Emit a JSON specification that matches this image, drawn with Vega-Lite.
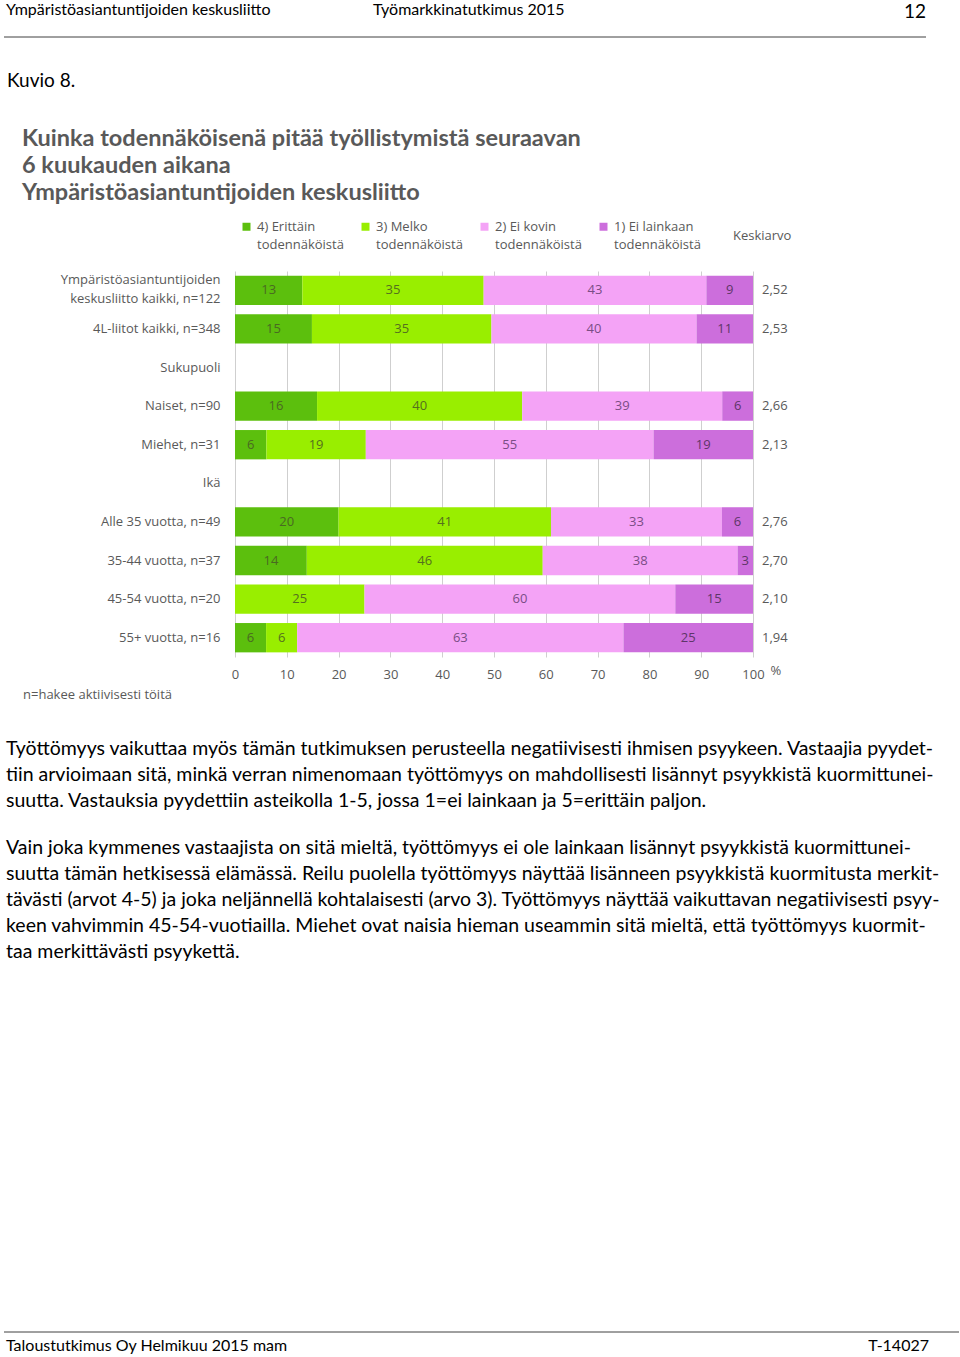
{
  "$schema": "https://vega.github.io/schema/vega-lite/v6.json",
  "background": "white",
  "padding": {"left": 3, "top": 2, "right": 0, "bottom": 0},
  "spacing": 33,
  "config": {
    "view": {"stroke": null},
    "locale": {"number": {"decimal": ",", "thousands": "\u00a0", "grouping": [3], "currency": ["", " €"]}}
  },
  "datasets": {
    "bars": [
      {"group": "Ympäristöasiantuntijoiden keskusliitto kaikki, n=122", "rating": 4, "cat": "4) Erittäin todennäköistä", "pct": 13},
      {"group": "Ympäristöasiantuntijoiden keskusliitto kaikki, n=122", "rating": 3, "cat": "3) Melko todennäköistä", "pct": 35},
      {"group": "Ympäristöasiantuntijoiden keskusliitto kaikki, n=122", "rating": 2, "cat": "2) Ei kovin todennäköistä", "pct": 43},
      {"group": "Ympäristöasiantuntijoiden keskusliitto kaikki, n=122", "rating": 1, "cat": "1) Ei lainkaan todennäköistä", "pct": 9},
      {"group": "4L-liitot kaikki, n=348", "rating": 4, "cat": "4) Erittäin todennäköistä", "pct": 15},
      {"group": "4L-liitot kaikki, n=348", "rating": 3, "cat": "3) Melko todennäköistä", "pct": 35},
      {"group": "4L-liitot kaikki, n=348", "rating": 2, "cat": "2) Ei kovin todennäköistä", "pct": 40},
      {"group": "4L-liitot kaikki, n=348", "rating": 1, "cat": "1) Ei lainkaan todennäköistä", "pct": 11},
      {"group": "Naiset, n=90", "rating": 4, "cat": "4) Erittäin todennäköistä", "pct": 16},
      {"group": "Naiset, n=90", "rating": 3, "cat": "3) Melko todennäköistä", "pct": 40},
      {"group": "Naiset, n=90", "rating": 2, "cat": "2) Ei kovin todennäköistä", "pct": 39},
      {"group": "Naiset, n=90", "rating": 1, "cat": "1) Ei lainkaan todennäköistä", "pct": 6},
      {"group": "Miehet, n=31", "rating": 4, "cat": "4) Erittäin todennäköistä", "pct": 6},
      {"group": "Miehet, n=31", "rating": 3, "cat": "3) Melko todennäköistä", "pct": 19},
      {"group": "Miehet, n=31", "rating": 2, "cat": "2) Ei kovin todennäköistä", "pct": 55},
      {"group": "Miehet, n=31", "rating": 1, "cat": "1) Ei lainkaan todennäköistä", "pct": 19},
      {"group": "Alle 35 vuotta, n=49", "rating": 4, "cat": "4) Erittäin todennäköistä", "pct": 20},
      {"group": "Alle 35 vuotta, n=49", "rating": 3, "cat": "3) Melko todennäköistä", "pct": 41},
      {"group": "Alle 35 vuotta, n=49", "rating": 2, "cat": "2) Ei kovin todennäköistä", "pct": 33},
      {"group": "Alle 35 vuotta, n=49", "rating": 1, "cat": "1) Ei lainkaan todennäköistä", "pct": 6},
      {"group": "35-44 vuotta, n=37", "rating": 4, "cat": "4) Erittäin todennäköistä", "pct": 14},
      {"group": "35-44 vuotta, n=37", "rating": 3, "cat": "3) Melko todennäköistä", "pct": 46},
      {"group": "35-44 vuotta, n=37", "rating": 2, "cat": "2) Ei kovin todennäköistä", "pct": 38},
      {"group": "35-44 vuotta, n=37", "rating": 1, "cat": "1) Ei lainkaan todennäköistä", "pct": 3},
      {"group": "45-54 vuotta, n=20", "rating": 3, "cat": "3) Melko todennäköistä", "pct": 25},
      {"group": "45-54 vuotta, n=20", "rating": 2, "cat": "2) Ei kovin todennäköistä", "pct": 60},
      {"group": "45-54 vuotta, n=20", "rating": 1, "cat": "1) Ei lainkaan todennäköistä", "pct": 15},
      {"group": "55+ vuotta, n=16", "rating": 4, "cat": "4) Erittäin todennäköistä", "pct": 6},
      {"group": "55+ vuotta, n=16", "rating": 3, "cat": "3) Melko todennäköistä", "pct": 6},
      {"group": "55+ vuotta, n=16", "rating": 2, "cat": "2) Ei kovin todennäköistä", "pct": 63},
      {"group": "55+ vuotta, n=16", "rating": 1, "cat": "1) Ei lainkaan todennäköistä", "pct": 25}
    ],
    "avg": [
      {"group": "Ympäristöasiantuntijoiden keskusliitto kaikki, n=122", "avg": 2.52},
      {"group": "4L-liitot kaikki, n=348", "avg": 2.53},
      {"group": "Naiset, n=90", "avg": 2.66},
      {"group": "Miehet, n=31", "avg": 2.13},
      {"group": "Alle 35 vuotta, n=49", "avg": 2.76},
      {"group": "35-44 vuotta, n=37", "avg": 2.70},
      {"group": "45-54 vuotta, n=20", "avg": 2.10},
      {"group": "55+ vuotta, n=16", "avg": 1.94}
    ]
  },
  "vconcat": [
    {
      "hconcat": [
        {
          "width": 366, "height": 12,
          "data": {"values": [{}]},
          "mark": {"type": "rule", "color": "#404040", "strokeWidth": 1},
          "encoding": {"y": {"datum": 0, "type": "quantitative", "scale": {"domain": [0, 1]}, "axis": null}},
          "title": {"text": "Ympäristöasiantuntijoiden keskusliitto", "anchor": "start", "frame": "group", "dx": 2, "offset": 7, "font": "Lato", "fontSize": 16, "fontWeight": "normal", "color": "#000000"}
        },
        {
          "width": 534, "height": 12,
          "data": {"values": [{}]},
          "mark": {"type": "rule", "color": "#404040", "strokeWidth": 1},
          "encoding": {"y": {"datum": 0, "type": "quantitative", "scale": {"domain": [0, 1]}, "axis": null}},
          "title": {"text": "Työmarkkinatutkimus 2015", "anchor": "start", "frame": "group", "dx": 3, "offset": 7, "font": "Lato", "fontSize": 16, "fontWeight": "normal", "color": "#000000"}
        },
        {
          "width": 22, "height": 12,
          "data": {"values": [{}]},
          "mark": {"type": "rule", "color": "#404040", "strokeWidth": 1},
          "encoding": {"y": {"datum": 0, "type": "quantitative", "scale": {"domain": [0, 1]}, "axis": null}},
          "title": {"text": "12", "anchor": "end", "frame": "group", "dx": 0, "offset": 3, "font": "Lato", "fontSize": 19, "fontWeight": "normal", "color": "#000000"}
        }
      ],
      "spacing": 0,
      "bounds": "flush"
    },
    {
      "title": {"text": "n=hakee aktiivisesti töitä", "orient": "bottom", "anchor": "start", "frame": "group", "dx": 19, "offset": 8, "font": "Open Sans", "fontSize": 13, "fontWeight": "normal", "color": "#595959"},
      "vconcat": [
        {
          "title": {"text": "Kuvio 8.", "anchor": "start", "frame": "group", "dx": 3, "offset": 36, "font": "Lato", "fontSize": 19, "fontWeight": "normal", "color": "#000000"},
          "spacing": 0,
          "hconcat": [
            {
              "width": 18, "height": 1,
              "data": {"values": [{}]},
              "mark": {"type": "text"},
              "encoding": {"text": {"value": ""}}
            },
            {
              "width": 518,
              "height": 386,
              "title": {
                "text": [
                  "Kuinka todennäköisenä pitää työllistymistä seuraavan",
                  "6 kuukauden aikana",
                  "Ympäristöasiantuntijoiden keskusliitto"
                ],
                "anchor": "start", "frame": "group", "dx": -213, "offset": 11, "limit": 2000,
                "font": "Lato", "fontSize": 23.5, "fontWeight": "bold", "color": "#595959", "lineHeight": 27
              },
              "resolve": {"scale": {"color": "independent"}},
              "layer": [
                {
                  "data": {"name": "bars"},
                  "mark": {"type": "bar"},
                  "encoding": {
                    "y": {
                      "field": "group", "type": "nominal",
                      "scale": {
                        "domain": [
                          "Ympäristöasiantuntijoiden keskusliitto kaikki, n=122",
                          "4L-liitot kaikki, n=348",
                          "Sukupuoli",
                          "Naiset, n=90",
                          "Miehet, n=31",
                          "Ikä",
                          "Alle 35 vuotta, n=49",
                          "35-44 vuotta, n=37",
                          "45-54 vuotta, n=20",
                          "55+ vuotta, n=16"
                        ],
                        "paddingInner": 0.24, "paddingOuter": 0.12
                      },
                      "axis": {
                        "title": null, "ticks": false, "domain": false, "grid": false,
                        "labelPadding": 15, "labelFont": "Open Sans", "labelFontSize": 13, "labelColor": "#595959",
                        "labelLineHeight": 19, "labelLimit": 300,
                        "labelBaseline": {"condition": {"test": "datum.value == 'Ympäristöasiantuntijoiden keskusliitto kaikki, n=122'", "value": "line-bottom"}, "value": "middle"},
                        "labelExpr": "datum.value == 'Ympäristöasiantuntijoiden keskusliitto kaikki, n=122' ? ['Ympäristöasiantuntijoiden', 'keskusliitto kaikki, n=122'] : datum.label"
                      }
                    },
                    "x": {
                      "field": "pct", "type": "quantitative", "stack": "normalize",
                      "scale": {"domain": [0, 1]},
                      "axis": {
                        "title": "%", "titleX": 535, "titleY": 13, "titleAlign": "left", "titleBaseline": "middle", "titleAngle": 0,
                        "titleFont": "Open Sans", "titleFontSize": 13, "titleFontWeight": "normal", "titleColor": "#595959",
                        "ticks": false, "domain": false, "grid": true, "gridColor": "#cfcfcf", "gridWidth": 1,
                        "tickCount": 10, "labelExpr": "format(datum.value * 100, 'd')", "labelFlush": false,
                        "labelPadding": 11, "labelFont": "Open Sans", "labelFontSize": 13, "labelColor": "#595959"
                      }
                    },
                    "color": {
                      "field": "cat", "type": "nominal",
                      "scale": {
                        "domain": ["4) Erittäin todennäköistä", "3) Melko todennäköistä", "2) Ei kovin todennäköistä", "1) Ei lainkaan todennäköistä", "Keskiarvo"],
                        "range": ["#5cbf0d", "#99ee00", "#f4a3f6", "#cc6edc", "transparent"]
                      },
                      "legend": {
                        "orient": "top", "direction": "horizontal", "columns": 5, "title": null,
                        "symbolType": "square", "symbolSize": 64, "symbolStrokeWidth": 0,
                        "labelFont": "Open Sans", "labelFontSize": 13, "labelColor": "#595959", "labelLimit": 200,
                        "labelExpr": "indexof(datum.label, ' todennäköistä') > 0 ? [replace(datum.label, ' todennäköistä', ''), 'todennäköistä'] : datum.label",
                        "columnPadding": 15, "offset": 14, "padding": 5,
                        "encode": {"labels": {"update": {"lineHeight": {"value": 18}}}}
                      }
                    },
                    "order": {"field": "rating", "type": "quantitative", "sort": "descending"}
                  }
                },
                {
                  "data": {"name": "bars"},
                  "mark": {"type": "text", "font": "Open Sans", "fontSize": 13},
                  "encoding": {
                    "y": {"field": "group", "type": "nominal"},
                    "x": {"field": "pct", "type": "quantitative", "stack": "normalize", "bandPosition": 0.5},
                    "text": {"field": "pct", "type": "quantitative"},
                    "color": {
                      "field": "rating", "type": "ordinal",
                      "scale": {"domain": [4, 3, 2, 1], "range": ["#4a6a22", "#55701f", "#7a4d85", "#5e3668"]},
                      "legend": null
                    },
                    "order": {"field": "rating", "type": "quantitative", "sort": "descending"}
                  }
                },
                {
                  "data": {"name": "avg"},
                  "mark": {"type": "text", "align": "left", "dx": 9, "font": "Open Sans", "fontSize": 13, "color": "#595959"},
                  "encoding": {
                    "y": {"field": "group", "type": "nominal"},
                    "x": {"datum": 1, "type": "quantitative"},
                    "text": {"field": "avg", "type": "quantitative", "format": ".2f"}
                  }
                }
              ]
            }
          ]
        }
      ]
    },
    {
      "width": 950, "height": 1,
      "data": {"values": [{}]},
      "mark": {"type": "text"},
      "encoding": {"text": {"value": ""}},
      "title": {
        "text": [
          "Työttömyys vaikuttaa myös tämän tutkimuksen perusteella negatiivisesti ihmisen psyykeen. Vastaajia pyydet-",
          "tiin arvioimaan sitä, minkä verran nimenomaan työttömyys on mahdollisesti lisännyt psyykkistä kuormittunei-",
          "suutta. Vastauksia pyydettiin asteikolla 1-5, jossa 1=ei lainkaan ja 5=erittäin paljon."
        ],
        "subtitle": [
          "Vain joka kymmenes vastaajista on sitä mieltä, työttömyys ei ole lainkaan lisännyt psyykkistä kuormittunei-",
          "suutta tämän hetkisessä elämässä. Reilu puolella työttömyys näyttää lisänneen psyykkistä kuormitusta merkit-",
          "tävästi (arvot 4-5) ja joka neljännellä kohtalaisesti (arvo 3). Työttömyys näyttää vaikuttavan negatiivisesti psyy-",
          "keen vahvimmin 45-54-vuotiailla. Miehet ovat naisia hieman useammin sitä mieltä, että työttömyys kuormit-",
          "taa merkittävästi psyykettä."
        ],
        "orient": "bottom",
        "anchor": "start", "frame": "group", "dx": 2, "offset": -7, "limit": 2000,
        "font": "Lato", "fontSize": 19.5, "fontWeight": "normal", "color": "#000000", "lineHeight": 26,
        "subtitleFont": "Lato", "subtitleFontSize": 19.5, "subtitleFontWeight": "normal", "subtitleColor": "#000000",
        "subtitleLineHeight": 26, "subtitlePadding": 28
      }
    },
    {
      "hconcat": [
        {
          "width": 600, "height": 337,
          "data": {"values": [{}]},
          "mark": {"type": "rule", "color": "#404040", "strokeWidth": 1},
          "encoding": {"y": {"datum": 0, "type": "quantitative", "scale": {"domain": [0, 1]}, "axis": null}},
          "title": {"text": "Taloustutkimus Oy Helmikuu 2015 mam", "orient": "bottom", "anchor": "start", "frame": "group", "dx": 2, "offset": 5, "font": "Lato", "fontSize": 16, "fontWeight": "normal", "color": "#000000"}
        },
        {
          "width": 355, "height": 337,
          "data": {"values": [{}]},
          "mark": {"type": "rule", "color": "#404040", "strokeWidth": 1},
          "encoding": {"y": {"datum": 0, "type": "quantitative", "scale": {"domain": [0, 1]}, "axis": null}},
          "title": {"text": "T-14027", "orient": "bottom", "anchor": "end", "frame": "group", "dx": -30, "offset": 5, "font": "Lato", "fontSize": 16, "fontWeight": "normal", "color": "#000000"}
        }
      ],
      "spacing": 0,
      "bounds": "flush"
    }
  ]
}
